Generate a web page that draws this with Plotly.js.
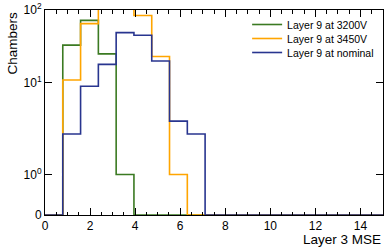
<!DOCTYPE html>
<html>
<head>
<meta charset="utf-8">
<script src="https://cdn.plot.ly/plotly-3.0.1.min.js"></script>
<style>html,body{margin:0;padding:0;background:#fff;}#chart{width:388px;height:252px;}</style>
</head>
<body>
<div id="chart"></div>
<script>
// Bin edges of the histogram (Layer 3 MSE)
const binEdges = [0, 0.789, 1.579, 2.368, 3.158, 3.947, 4.737, 5.526, 6.316, 7.105,
                  7.895, 8.684, 9.474, 10.263, 11.053, 11.842, 12.632, 13.421, 14.211, 15];
// Counts per bin (19 bins)
const counts3200 = [0, 33, 72, 25, 1, 0, 0, 0, 0, 0, 0, 0, 0, 0, 0, 0, 0, 0, 0];
const counts3450 = [0, 11, 65, 130, 160, 84, 23, 1, 0, 0, 0, 0, 0, 0, 0, 0, 0, 0, 0];
const countsNominal = [0, 2, 9, 18, 49, 45, 20, 3, 2, 0, 0, 0, 0, 0, 0, 0, 0, 0, 0];
const seriesNames = ['Layer 9 at 3200V', 'Layer 9 at 3450V', 'Layer 9 at nominal'];
const seriesColors = ['#3b7a22', '#ffa500', '#28358f'];
const yTickValues = [0, 1, 10, 100];
const yTickLabels = ['0', '10<sup>0</sup>', '10<sup>1</sup>', '10<sup>2</sup>'];

// symmetric-log transform (linthresh = 2, linscale = 1, base 10)
const LINTHRESH = 2, LINSCALE = 1 / (1 - 1 / 10);
function symlog(v) {
  return v <= LINTHRESH ? v * LINSCALE / LINTHRESH : LINSCALE + Math.log10(v / LINTHRESH);
}

const allCounts = [counts3200, counts3450, countsNominal];
const legendIds = ['legend', 'legend2', 'legend3'];
const traces = allCounts.map((c, i) => ({
  type: 'scatter', mode: 'lines',
  x: binEdges,
  y: c.concat([0]).map(symlog),
  line: {shape: 'hv', color: seriesColors[i], width: 1.6},
  name: seriesNames[i],
  legend: legendIds[i],
  hoverinfo: 'skip'
}));

const font = {family: 'Liberation Sans, Arial, sans-serif', color: '#000'};
const plotTop = 10, plotH = 205;
const legendRows = [24.5, 38.5, 52.5];
function legendAt(ypx) {
  return {x: 0.598, xanchor: 'left', y: (plotTop + plotH - ypx) / plotH, yanchor: 'middle',
          bgcolor: 'rgba(0,0,0,0)', borderwidth: 0,
          font: Object.assign({}, font, {size: 10.5})};
}

const layout = {
  width: 388, height: 252,
  margin: {l: 45, r: 5, t: plotTop, b: 37},
  paper_bgcolor: '#fff', plot_bgcolor: '#fff',
  font: Object.assign({}, font, {size: 12}),
  showlegend: true,
  legend: legendAt(legendRows[0]),
  legend2: legendAt(legendRows[1]),
  legend3: legendAt(legendRows[2]),
  xaxis: {
    range: [0, 15], tick0: 0, dtick: 2,
    ticks: 'inside', ticklen: 7, tickwidth: 1, tickcolor: '#000',
    showline: true, linecolor: '#000', linewidth: 1, mirror: 'allticks',
    showgrid: false, zeroline: false,
    minor: {dtick: 0.5, tick0: 0, ticks: 'inside', ticklen: 3.5, tickwidth: 1, tickcolor: '#000', showgrid: false},
    tickfont: Object.assign({}, font, {size: 12})
  },
  yaxis: {
    range: [0, symlog(100)],
    tickmode: 'array',
    tickvals: yTickValues.map(symlog),
    ticktext: yTickLabels,
    ticks: 'inside', ticklen: 7, tickwidth: 1, tickcolor: '#000',
    showline: true, linecolor: '#000', linewidth: 1, mirror: 'allticks',
    showgrid: false, zeroline: false,
    tickfont: Object.assign({}, font, {size: 12})
  },
  annotations: [
    {text: 'Layer 3 MSE', xref: 'paper', yref: 'paper', x: 1, xanchor: 'right',
     y: -24 / plotH, yanchor: 'middle', showarrow: false, font: Object.assign({}, font, {size: 13.5})},
    {text: 'Chambers', xref: 'paper', yref: 'paper', x: (12 - 45) / 338, xanchor: 'center',
     y: 1, yanchor: 'top', textangle: -90, showarrow: false, font: Object.assign({}, font, {size: 13.5})}
  ]
};

Plotly.newPlot('chart', traces, layout, {staticPlot: true, displayModeBar: false});
</script>
</body>
</html>
